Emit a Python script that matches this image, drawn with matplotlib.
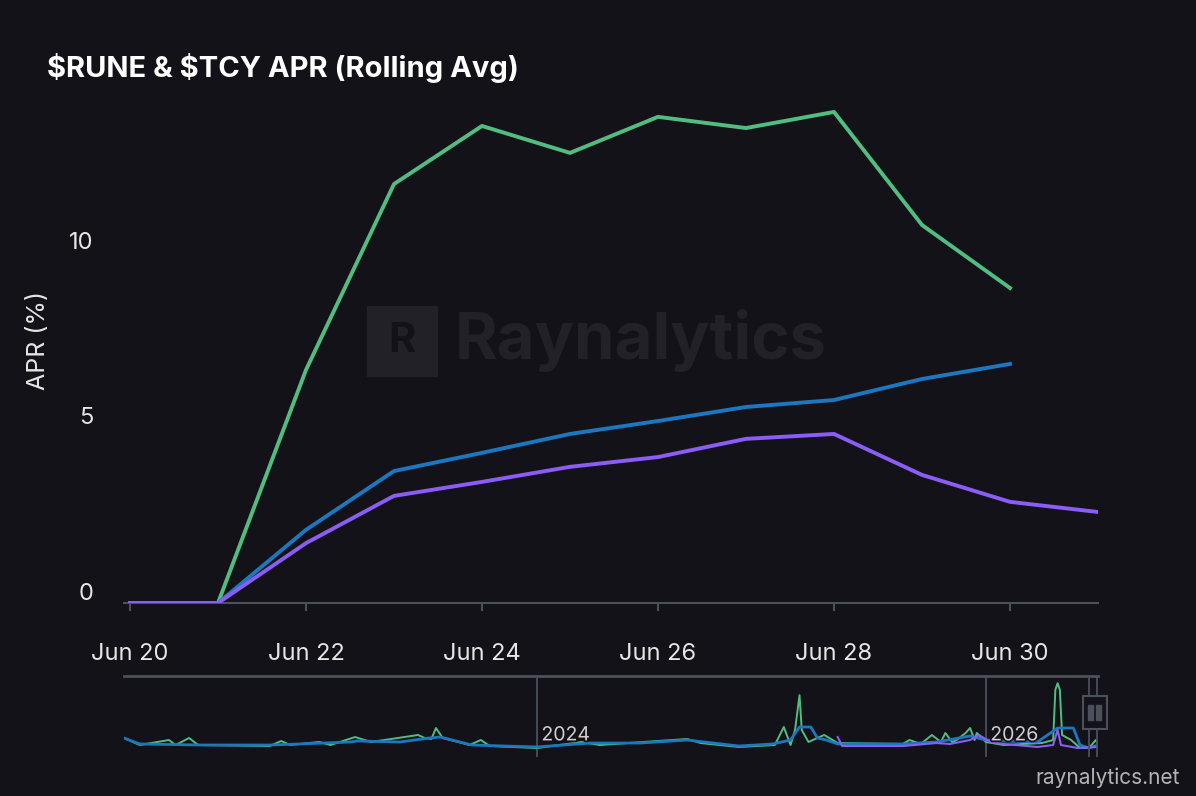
import numpy as np
import matplotlib
matplotlib.use("Agg")
import matplotlib.pyplot as plt
import matplotlib.dates as mdates
from matplotlib.patches import Rectangle
import matplotlib.patheffects as pe
from matplotlib.transforms import ScaledTranslation

plt.rcParams['font.family'] = ['Inter', 'DejaVu Sans']

BG = "#131218"
GREEN = "#52bd80"
BLUE = "#1b78c0"
PURPLE = "#8b5cf6"
AXIS = "#4b505c"

# main chart, daily rolling APR (%)
days = np.array(["2026-06-20", "2026-06-21", "2026-06-22", "2026-06-23", "2026-06-24",
                 "2026-06-25", "2026-06-26", "2026-06-27", "2026-06-28", "2026-06-29",
                 "2026-06-30", "2026-07-01"], dtype="datetime64[D]")
green = [0, 0, 6.66, 11.97, 13.63, 12.86, 13.89, 13.57, 14.03, 10.8, 9.0]
blue = [0, 0, 2.09, 3.77, 4.29, 4.83, 5.2, 5.6, 5.8, 6.4, 6.83]
purple = [0, 0, 1.71, 3.06, 3.46, 3.89, 4.17, 4.69, 4.83, 3.66, 2.89, 2.6]

# navigator overview (decimal years)
nav_blue_x = [2022.16, 2022.23, 2022.50, 2022.81, 2022.94, 2023.17, 2023.20, 2023.39,
              2023.52, 2023.57, 2023.71, 2024.00, 2024.24, 2024.46, 2024.67, 2024.90,
              2025.05, 2025.13, 2025.17, 2025.22, 2025.25, 2025.29, 2025.34, 2025.63,
              2025.78, 2025.93, 2026.00, 2026.08, 2026.23, 2026.32, 2026.39, 2026.42,
              2026.46, 2026.50]
nav_blue = [16.7, 6.7, 5, 5, 6.7, 10, 11.7, 10, 16.7, 18.3, 5, 1.7, 8.3, 8.3, 13.3, 3.3,
            6.7, 13.3, 35, 35, 16.7, 13.3, 6.7, 6.7, 10, 20, 13.3, 11.7, 10, 33.3, 33.3,
            5, 0, 5]
nav_green_x = [2022.16, 2022.23, 2022.36, 2022.39, 2022.45, 2022.49, 2022.81, 2022.86,
               2022.90, 2023.03, 2023.08, 2023.19, 2023.26, 2023.47, 2023.50, 2023.53,
               2023.55, 2023.58, 2023.70, 2023.75, 2023.79, 2024.00, 2024.20, 2024.28,
               2024.67, 2024.73, 2024.90, 2025.06, 2025.10, 2025.13, 2025.15, 2025.17,
               2025.18, 2025.21, 2025.28, 2025.34, 2025.63, 2025.66, 2025.71, 2025.76,
               2025.80, 2025.82, 2025.85, 2025.87, 2025.91, 2025.93, 2025.95, 2025.96,
               2026.00, 2026.08, 2026.25, 2026.30, 2026.31, 2026.32, 2026.33, 2026.34,
               2026.38, 2026.42, 2026.46, 2026.49, 2026.50]
nav_green = [16.7, 5, 13.3, 5, 16.7, 5, 3.3, 11.7, 5, 10, 5, 18.3, 10, 21.7, 16.7, 15,
             33.3, 16.7, 5, 13.3, 3.3, 0, 10, 5, 15, 8.3, 1.7, 5, 35, 5, 30, 88, 30,
             10, 21.7, 8.3, 6.7, 13.3, 6.7, 21.7, 10, 25, 10, 13.3, 25, 33.3, 13.3, 25,
             10, 5, 8.3, 13.3, 97, 108, 97, 21.7, 13.3, 0, 0, 13.3, 5]
nav_purple_x = [2025.34, 2025.36, 2025.63, 2025.78, 2025.84, 2025.93, 2025.97, 2026.02,
                2026.08, 2026.23, 2026.30, 2026.32, 2026.335, 2026.41, 2026.50]
nav_purple = [18.3, 3.3, 3.3, 8.3, 6.7, 13.3, 21.7, 10, 6.7, 1.7, 5, 30, 5, 0, 1.7]

W, H = 1196, 796
fig = plt.figure(figsize=(W / 100, H / 100), dpi=100, facecolor=BG)

ax = fig.add_axes([124 / W, 1 - 603 / H, 974 / W, 525 / H])
ax.set_facecolor(BG)
ax.plot(days[:len(green)], green, color=GREEN, lw=2.8, zorder=3)
ax.plot(days[:len(blue)], blue, color=BLUE, lw=2.8, zorder=4)
ax.plot(days[:len(purple)], purple, color=PURPLE, lw=2.8, zorder=5)
ax.set_ylim(0, 15)
ax.set_xlim(days[0] - np.timedelta64(98, "m"), days[-1])
ax.xaxis.set_major_locator(mdates.DayLocator(bymonthday=[20, 22, 24, 26, 28, 30]))
ax.xaxis.set_major_formatter(mdates.DateFormatter("%b %d"))
ax.set_yticks([0, 5, 10])
ax.set_yticklabels(["0", "5", "10"])
for s in ["top", "right", "left"]:
    ax.spines[s].set_visible(False)
ax.spines["bottom"].set_color(AXIS)
ax.spines["bottom"].set_linewidth(1.5)
ax.tick_params(axis="x", colors=AXIS, length=6, width=1.5, pad=23,
               labelcolor="#e6e6e6", labelsize=17)
ax.tick_params(axis="y", length=0, pad=22, labelcolor="#e6e6e6", labelsize=17)
for lbl in ax.get_yticklabels():
    lbl.set_transform(lbl.get_transform() + ScaledTranslation(0, 12 / 100, fig.dpi_scale_trans))
ax.set_ylabel("APR (%)", color="#e6e6e6", fontsize=18)
ax.yaxis.set_label_coords(-74 / 974, 0.5)

# watermark
fig.patches.append(Rectangle((367 / W, 1 - 376 / H), 70 / W, 70 / H, transform=fig.transFigure,
                             color="#222127", zorder=0))
fig.text(402 / W, 1 - 341 / H, "R", color=BG, fontsize=30, fontweight="bold",
         ha="center", va="center", zorder=1)
fig.text(455 / W, 1 - 341 / H, "Raynalytics", color="#222127", fontsize=47,
         fontweight="bold", ha="left", va="center", zorder=1)

fig.text(47 / W, 1 - 68 / H, r"\$RUNE & \$TCY APR (Rolling Avg)", color="white",
         fontsize=21, fontweight="bold", ha="left", va="center")

# navigator
nav = fig.add_axes([124 / W, 1 - 757 / H, 974 / W, 81 / H])
nav.set_facecolor(BG)
nav.set_xlim(2022.16, 2026.50)
nav.set_ylim(-15, 120)
nav.plot(nav_green_x, nav_green, color=GREEN, lw=1.4, zorder=3)
nav.plot(nav_blue_x, nav_blue, color=BLUE, lw=2.0, zorder=4)
nav.plot(nav_purple_x, nav_purple, color=PURPLE, lw=1.5, zorder=5)
for s in ["bottom", "right", "left"]:
    nav.spines[s].set_visible(False)
nav.spines["top"].set_color(AXIS)
nav.spines["top"].set_linewidth(2)
nav.set_xticks([])
nav.set_yticks([])
for yr in [2024, 2026]:
    nav.axvline(yr, color=AXIS, lw=1.3, zorder=2)
    nav.text(yr + 0.02, 21, str(yr), color="#d0d0d0", fontsize=14, ha="left", va="center",
             zorder=6, path_effects=[pe.withStroke(linewidth=2.5, foreground=BG)])
nav.axvline(2026.46, color=AXIS, lw=1.3, zorder=6)
nav.axvline(2026.497, color=AXIS, lw=1.3, zorder=6)

# handle
fig.patches.append(Rectangle((1083 / W, 1 - 729 / H), 24 / W, 33 / H, transform=fig.transFigure,
                             facecolor=BG, edgecolor=AXIS, lw=1.5, zorder=7))
for hx in [1088, 1096]:
    fig.patches.append(Rectangle((hx / W, 1 - 720 / H), 5 / W, 15 / H, transform=fig.transFigure,
                                 color=AXIS, zorder=8))

fig.text(1180 / W, 1 - 778 / H, "raynalytics.net", color="#b4b4b4", fontsize=15,
         ha="right", va="center")

fig.savefig("out.png", dpi=100, facecolor=BG)
